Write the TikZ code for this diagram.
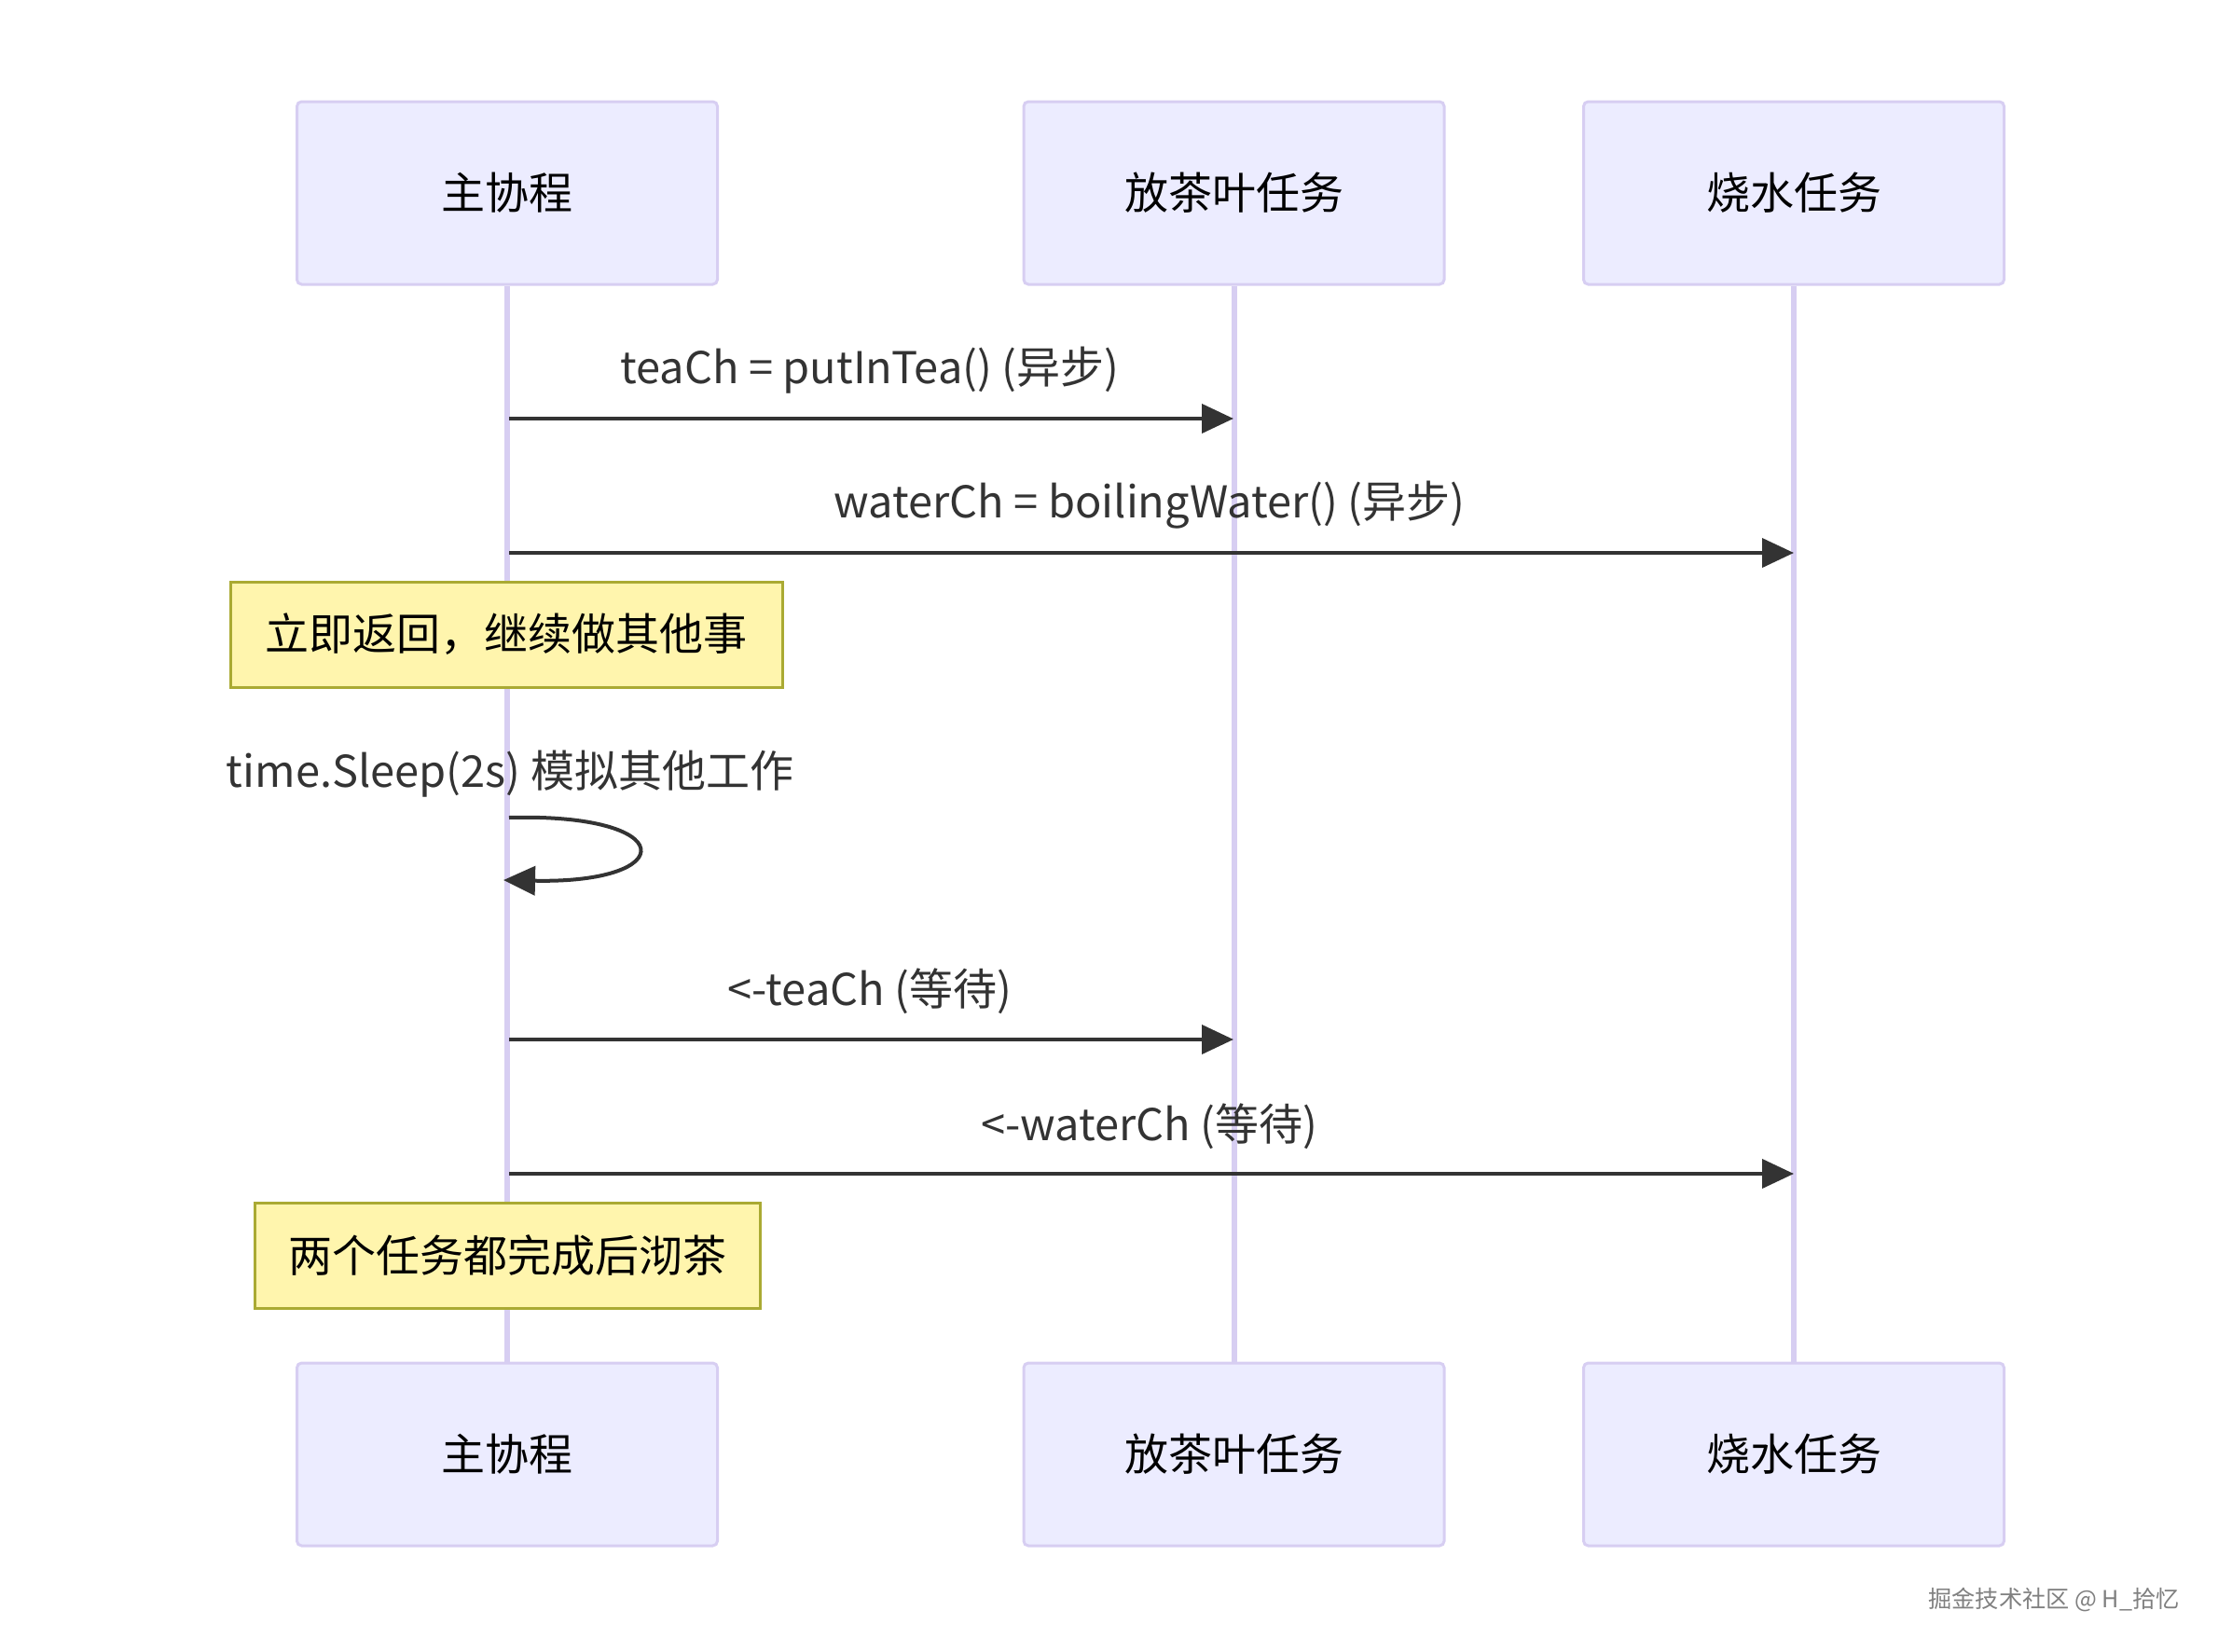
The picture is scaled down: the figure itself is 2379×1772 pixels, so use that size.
\documentclass[tikz,border=0pt]{standalone}
\usepackage{fontspec}
\setmainfont{Noto Sans CJK SC}
\usetikzlibrary{arrows.meta}
\definecolor{actorfill}{HTML}{ECECFF}
\definecolor{actorline}{HTML}{D7CEF2}
\definecolor{notefill}{HTML}{FFF5AD}
\definecolor{noteline}{HTML}{AAAA33}
\definecolor{signal}{HTML}{333333}
\begin{document}
\begin{tikzpicture}[x=0.5pt,y=-0.5pt,
    actor/.style={draw=actorline,fill=actorfill,line width=1.5pt,rounded corners=2.5pt,
      minimum width=225.5pt,minimum height=98pt,inner sep=0pt,text=black,font=\fontsize{23.5}{28}\selectfont},
    note/.style={draw=noteline,fill=notefill,line width=1.5pt,minimum height=56.5pt,inner sep=0pt,
      text=black,font=\fontsize{23.5}{28}\selectfont},
    msglabel/.style={text=signal,inner sep=0pt,font=\fontsize{23.5}{28}\selectfont},
    lifeline/.style={draw=actorline,line width=3pt},
    msg/.style={draw=signal,line width=2pt,-{Triangle[length=17pt,width=15.5pt]}}]
    \useasboundingbox (0,0) rectangle (2379,1772);
    % actors, top and bottom
    \node[actor] (mainT) at (544,207) {主协程};
    \node[actor] (teaT) at (1323.5,207) {放茶叶任务};
    \node[actor] (waterT) at (1924,207) {烧水任务};
    \node[actor] (mainB) at (544,1560) {主协程};
    \node[actor] (teaB) at (1323.5,1560) {放茶叶任务};
    \node[actor] (waterB) at (1924,1560) {烧水任务};

    \draw[lifeline] (mainT) -- (mainB);
    \draw[lifeline] (teaT) -- (teaB);
    \draw[lifeline] (waterT) -- (waterB);

    % message end points on the lifelines
    \coordinate (m1a) at (546,449);
    \coordinate (m1b) at (1323,449);
    \coordinate (m2a) at (546,593);
    \coordinate (m2b) at (1924,593);
    \coordinate (s1a) at (546,877);
    \coordinate (s1b) at (540,944);
    \coordinate (m3a) at (546,1115);
    \coordinate (m3b) at (1323,1115);
    \coordinate (m4a) at (546,1259);
    \coordinate (m4b) at (1924,1259);

    \node[msglabel] (l1) at (933,397) {teaCh = putInTea() (异步)};
    \draw[msg] (m1a) -- (m1b);
    \node[msglabel] (l2) at (1233,542) {waterCh = boilingWater() (异步)};
    \draw[msg] (m2a) -- (m2b);

    \node[note,minimum width=296pt] (n1) at (543,680.5) {立即返回，继续做其他事};

    \node[msglabel] (l3) at (547,830) {time.Sleep(2s) 模拟其他工作};
    \draw[msg] (s1a) .. controls (730,872) and (730,948) .. (s1b);

    \node[msglabel] (l4) at (933,1063) {<-teaCh (等待)};
    \draw[msg] (m3a) -- (m3b);
    \node[msglabel] (l5) at (1233,1208) {<-waterCh (等待)};
    \draw[msg] (m4a) -- (m4b);

    \node[note,minimum width=271pt] (n2) at (544,1346.5) {两个任务都完成后沏茶};

    \node[text=black!50,inner sep=0pt,font=\fontsize{12.6}{14}\selectfont] (wm) at (2203,1716) {掘金技术社区 @ H\_拾忆};
\end{tikzpicture}
\end{document}
